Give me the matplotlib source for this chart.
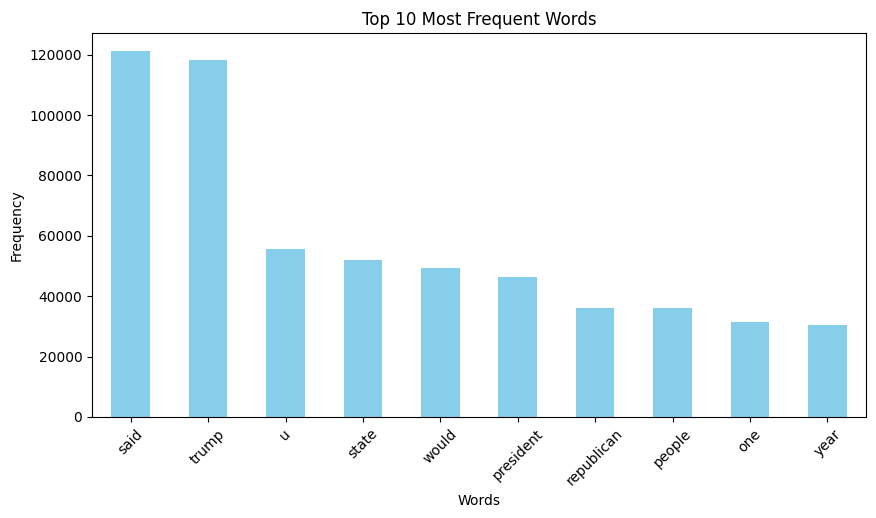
import matplotlib
matplotlib.use("Agg")
import matplotlib.pyplot as plt
import numpy as np

words = ["said", "trump", "u", "state", "would", "president",
         "republican", "people", "one", "year"]
counts = [121100, 118100, 55760, 52130, 49490, 46520,
          35960, 35960, 31340, 30350]

fig = plt.figure(figsize=(8.76, 5.18), dpi=100)
ax = fig.add_axes([92 / 876, 1 - 417 / 518, 774 / 876, 384 / 518])

x = np.arange(len(words))
ax.bar(x, counts, width=0.5, color="skyblue")
ax.set_xlim(-0.5, len(words) - 0.5)
ax.set_xticks(x)
ax.set_xticklabels(words, rotation=45)
ax.set_title("Top 10 Most Frequent Words")
ax.set_xlabel("Words")
ax.set_ylabel("Frequency")

fig.savefig("out.png", dpi=100)
